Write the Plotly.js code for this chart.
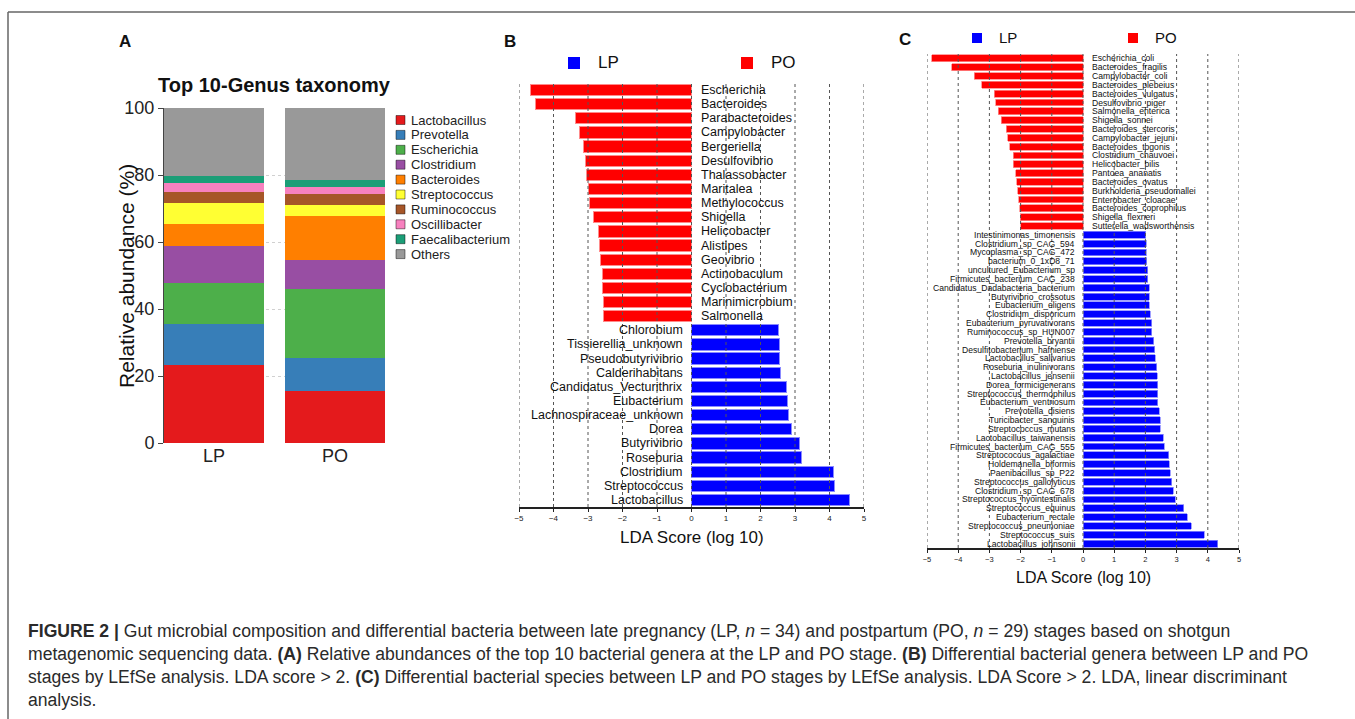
<!DOCTYPE html>
<html><head><meta charset="utf-8">
<script src="https://cdn.plot.ly/plotly-3.0.1.min.js"></script>
<style>html,body{margin:0;padding:0;background:#fff;overflow:hidden}#chart{width:1355px;height:719px}</style>
</head><body><div id="chart"></div>
<script>
// ---------- Panel A data ----------
const groupsA = ['LP', 'PO'];
const genusNames = ['Lactobacillus','Prevotella','Escherichia','Clostridium','Bacteroides','Streptococcus','Ruminococcus','Oscillibacter','Faecalibacterium','Others'];
const genusColors = ['#E41A1C','#377EB8','#4DAF4A','#984EA3','#FF7F00','#FFFF33','#A65628','#F781BF','#1B9E77','#999999'];
const lpAbundance = [23.2, 12.4, 12.2, 11.1, 6.5, 6.2, 3.4, 2.5, 2.3, 20.2];
const poAbundance = [15.4, 10.0, 20.5, 8.7, 13.3, 3.2, 3.2, 2.1, 2.2, 21.4];

// ---------- Panel B data (genera) ----------
const genusPO = ['Escherichia','Bacteroides','Parabacteroides','Campylobacter','Bergeriella','Desulfovibrio','Thalassobacter','Maritalea','Methylococcus','Shigella','Helicobacter','Alistipes','Geovibrio','Actinobaculum','Cyclobacterium','Marinimicrobium','Salmonella'];
const ldaGenusPO = [-4.66,-4.53,-3.36,-3.26,-3.12,-3.08,-3.04,-3.00,-2.95,-2.85,-2.71,-2.67,-2.63,-2.59,-2.57,-2.56,-2.55];
const genusLP = ['Chlorobium','Tissierellia_unknown','Pseudobutyrivibrio','Calderihabitans','Candidatus_Vecturithrix','Eubacterium','Lachnospiraceae_unknown','Dorea','Butyrivibrio','Roseburia','Clostridium','Streptococcus','Lactobacillus'];
const ldaGenusLP = [2.53,2.55,2.56,2.58,2.76,2.77,2.81,2.90,3.14,3.19,4.12,4.15,4.57];

// ---------- Panel C data (species) ----------
const speciesPO = ['Escherichia_coli','Bacteroides_fragilis','Campylobacter_coli','Bacteroides_plebeius','Bacteroides_vulgatus','Desulfovibrio_piger','Salmonella_enterica','Shigella_sonnei','Bacteroides_stercoris','Campylobacter_jejuni','Bacteroides_togonis','Clostridium_chauvoei','Helicobacter_bilis','Pantoea_ananatis','Bacteroides_ovatus','Burkholderia_pseudomallei','Enterobacter_cloacae','Bacteroides_coprophilus','Shigella_flexneri','Sutterella_wadsworthensis'];
const ldaSpeciesPO = [-4.84,-4.21,-3.49,-3.25,-2.84,-2.79,-2.72,-2.62,-2.46,-2.41,-2.35,-2.24,-2.23,-2.16,-2.13,-2.09,-2.06,-2.02,-2.01,-2.00];
const speciesLP = ['Intestinimonas_timonensis','Clostridium_sp_CAG_594','Mycoplasma_sp_CAG_472','bacterium_0_1xD8_71','uncultured_Eubacterium_sp','Firmicutes_bacterium_CAG_238','Candidatus_Dadabacteria_bacterium','Butyrivibrio_crossotus','Eubacterium_eligens','Clostridium_disporicum','Eubacterium_pyruvativorans','Ruminococcus_sp_HUN007','Prevotella_bryantii','Desulfitobacterium_hafniense','Lactobacillus_salivarius','Roseburia_inulinivorans','Lactobacillus_jensenii','Dorea_formicigenerans','Streptococcus_thermophilus','Eubacterium_ventriosum','Prevotella_disiens','Turicibacter_sanguinis','Streptococcus_mutans','Lactobacillus_taiwanensis','Firmicutes_bacterium_CAG_555','Streptococcus_agalactiae','Holdemanella_biformis','Paenibacillus_sp_P22','Streptococcus_gallolyticus','Clostridium_sp_CAG_678','Streptococcus_hyointestinalis','Streptococcus_equinus','Eubacterium_rectale','Streptococcus_pneumoniae','Streptococcus_suis','Lactobacillus_johnsonii'];
const ldaSpeciesLP = [2.01,2.03,2.03,2.05,2.07,2.07,2.12,2.13,2.13,2.16,2.20,2.21,2.26,2.30,2.32,2.37,2.38,2.39,2.39,2.40,2.45,2.47,2.48,2.57,2.60,2.75,2.76,2.79,2.84,2.90,2.96,3.23,3.34,3.47,3.89,4.32];

const groupNames = ['LP','PO'];
const groupColors = ['#0000FF','#FF0000'];
const ldaTicks = [-5,-4,-3,-2,-1,0,1,2,3,4,5];

const captionLines = [
 '<b>FIGURE 2 |</b> Gut microbial composition and differential bacteria between late pregnancy (LP, <i>n</i> = 34) and postpartum (PO, <i>n</i> = 29) stages based on shotgun',
 'metagenomic sequencing data. <b>(A)</b> Relative abundances of the top 10 bacterial genera at the LP and PO stage. <b>(B)</b> Differential bacterial genera between LP and PO',
 'stages by LEfSe analysis. LDA score &gt; 2. <b>(C)</b> Differential bacterial species between LP and PO stages by LEfSe analysis. LDA Score &gt; 2. LDA, linear discriminant',
 'analysis.'
];

// ---------- helpers ----------
const W = 1355, H = 719;
const FONT = 'Liberation Sans, Arial, Helvetica, sans-serif';
const px = v => v / W;
const py = v => 1 - v / H;

const traces = [];
const shapes = [];
const annotations = [];

// Panel A stacked bars
genusNames.forEach((g, i) => {
  traces.push({
    type: 'bar', name: g, x: groupsA, y: [lpAbundance[i], poAbundance[i]],
    marker: {color: genusColors[i], line: {width: 0}}, width: 0.826,
    xaxis: 'x', yaxis: 'y', showlegend: false, hoverinfo: 'skip'
  });
});

// Panel B
const catB = genusPO.concat(genusLP);
traces.push({type:'bar', orientation:'h', x: ldaGenusPO, y: genusPO, xaxis:'x2', yaxis:'y2', width:0.8,
  marker:{color:groupColors[1], line:{color:'#FF8A8A', width:1}}, showlegend:false, hoverinfo:'skip'});
traces.push({type:'bar', orientation:'h', x: ldaGenusLP, y: genusLP, xaxis:'x2', yaxis:'y2', width:0.8,
  marker:{color:groupColors[0], line:{color:'#8A8AFF', width:1}}, showlegend:false, hoverinfo:'skip'});

// Panel C
const catC = speciesPO.concat(speciesLP);
traces.push({type:'bar', orientation:'h', x: ldaSpeciesPO, y: speciesPO, xaxis:'x3', yaxis:'y3', width:0.78,
  marker:{color:groupColors[1], line:{color:'#FF8A8A', width:0.8}}, showlegend:false, hoverinfo:'skip'});
traces.push({type:'bar', orientation:'h', x: ldaSpeciesLP, y: speciesLP, xaxis:'x3', yaxis:'y3', width:0.78,
  marker:{color:groupColors[0], line:{color:'#8A8AFF', width:0.8}}, showlegend:false, hoverinfo:'skip'});

// dotted vertical gridlines (above bars)
['x2','x3'].forEach((xa, k) => {
  const ya = k === 0 ? 'y2' : 'y3';
  ldaTicks.forEach(v => shapes.push({type:'line', xref:xa, yref:ya + ' domain', x0:v, x1:v, y0:0, y1:1,
    line:{color:'#555', width:1, dash:'dot'}, layer:'above'}));
});

// bar labels
function addLabels(names, xa, ya, offset, side, size, startIdx) {
  names.forEach((n, i) => annotations.push({xref:xa, yref:ya, x:0, y:startIdx + i, text:n, showarrow:false,
    xanchor: side, yanchor:'middle', xshift: offset, font:{family:FONT, size:size, color:'#111'}}));
}
addLabels(genusPO, 'x2', 'y2', 7, 'left', 12.5, 0);
addLabels(genusLP, 'x2', 'y2', -7, 'right', 12.5, genusPO.length);
addLabels(speciesPO, 'x3', 'y3', 7, 'left', 8.6, 0);
addLabels(speciesLP, 'x3', 'y3', -6, 'right', 8.6, speciesPO.length);

// Panel A legend
genusNames.forEach((g, i) => {
  const cy = 120 + i * 14.9;
  shapes.push({type:'rect', xref:'paper', yref:'paper', x0:px(396), x1:px(405), y0:py(cy+4.5), y1:py(cy-4.5),
    fillcolor: genusColors[i], line:{color:'rgba(0,0,0,0.45)', width:1}});
  annotations.push({xref:'paper', yref:'paper', x:px(409), y:py(cy), text:g, showarrow:false, xanchor:'left', yanchor:'middle',
    font:{family:FONT, size:13, color:'#222'}});
});

// Panel B / C group legends
function groupLegend(centers, cy, sq, textOff, size) {
  groupNames.forEach((g, i) => {
    shapes.push({type:'rect', xref:'paper', yref:'paper', x0:px(centers[i]-sq/2), x1:px(centers[i]+sq/2),
      y0:py(cy+sq/2), y1:py(cy-sq/2), fillcolor:groupColors[i], line:{width:0}});
    annotations.push({xref:'paper', yref:'paper', x:px(centers[i]+textOff), y:py(cy), text:g, showarrow:false,
      xanchor:'left', yanchor:'middle', font:{family:FONT, size:size, color:'#111'}});
  });
}
groupLegend([574, 747], 63, 12, 22, 17);
groupLegend([977, 1133], 38, 10, 20, 15);

// titles / labels
function txt(x, y, t, size, opts) {
  annotations.push(Object.assign({xref:'paper', yref:'paper', x:px(x), y:py(y), text:t, showarrow:false,
    xanchor:'center', yanchor:'middle', font:{family:FONT, size:size, color:'#111'}}, opts || {}));
}
txt(125, 42, '<b>A</b>', 17);
txt(510, 42, '<b>B</b>', 17);
txt(905, 40, '<b>C</b>', 17);
txt(274, 85, '<b>Top 10-Genus taxonomy</b>', 20);
txt(126, 276, 'Relative abundance (%)', 21, {textangle:-90});
txt(692, 537, 'LDA Score (log 10)', 17);
txt(1083, 577, 'LDA Score (log 10)', 16);
const capY = [631, 654, 677, 700];
captionLines.forEach((l, i) => txt(26, capY[i], l, 17.6, {xanchor:'left', font:{family:FONT, size:17.6, color:'#2a2a2a'}}));

// frame
shapes.push({type:'line', xref:'paper', yref:'paper', x0:px(8), x1:1, y0:py(12), y1:py(12), line:{color:'#666', width:1.5}});
shapes.push({type:'line', xref:'paper', yref:'paper', x0:px(8), x1:px(8), y0:py(12), y1:0, line:{color:'#666', width:1.5}});

const layout = {
  width: W, height: H, margin:{l:0, r:0, t:0, b:0}, paper_bgcolor:'#fff', plot_bgcolor:'rgba(0,0,0,0)',
  barmode:'stack', font:{family:FONT, color:'#111'},
  xaxis:{domain:[px(164), px(385)], anchor:'y', type:'category', range:[-0.413, 1.413], showline:false, ticks:'',
    showgrid:false, zeroline:false, tickfont:{size:18, color:'#222'}, fixedrange:true},
  yaxis:{domain:[py(443), py(108)], anchor:'x', range:[0,100], tickvals:[0,20,40,60,80,100], ticks:'outside', ticklen:5,
    tickcolor:'#444', showline:true, linecolor:'#444', linewidth:1, showgrid:true, gridcolor:'#d0d0d0', griddash:'dot',
    zeroline:false, tickfont:{size:18, color:'#222'}},
  xaxis2:{domain:[px(519), px(864)], anchor:'y2', range:[-5,5], tickvals:ldaTicks, ticks:'outside', ticklen:3,
    tickcolor:'#222', showline:true, linecolor:'#222', linewidth:1.5, showgrid:false, zeroline:false, tickfont:{size:8, color:'#222'}},
  yaxis2:{domain:[py(507), py(83)], anchor:'x2', type:'category', categoryorder:'array', categoryarray:catB,
    range:[catB.length - 0.5, -0.5], visible:false},
  xaxis3:{domain:[px(927), px(1239)], anchor:'y3', range:[-5,5], tickvals:ldaTicks, ticks:'outside', ticklen:3,
    tickcolor:'#222', showline:true, linecolor:'#222', linewidth:1.5, showgrid:false, zeroline:false, tickfont:{size:7.5, color:'#222'}},
  yaxis3:{domain:[py(548), py(54)], anchor:'x3', type:'category', categoryorder:'array', categoryarray:catC,
    range:[catC.length - 0.5, -0.5], visible:false},
  shapes: shapes, annotations: annotations
};

Plotly.newPlot('chart', traces, layout, {displayModeBar:false, staticPlot:true});
</script></body></html>
